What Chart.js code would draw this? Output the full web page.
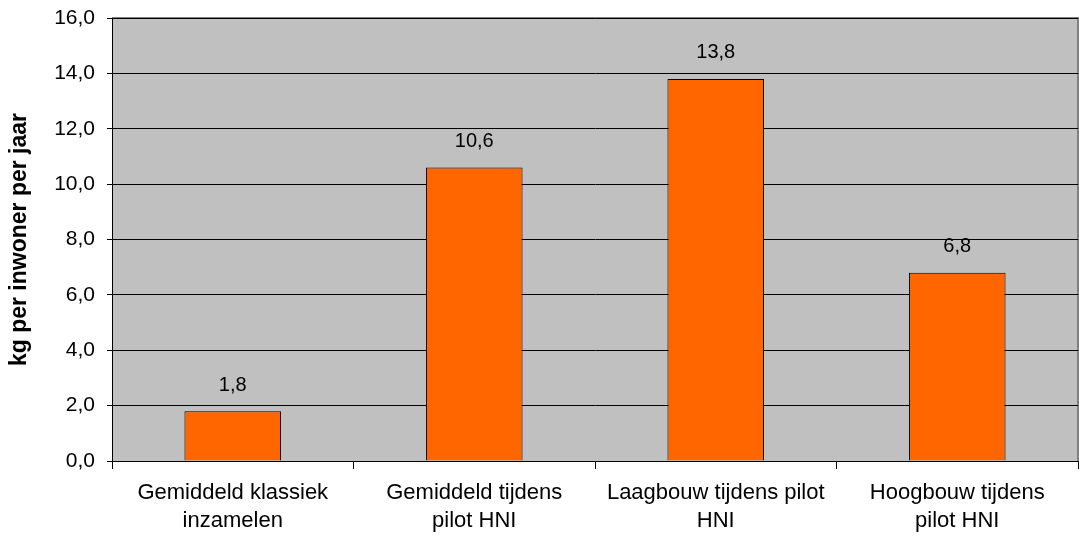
<!DOCTYPE html>
<html>
<head>
<meta charset="utf-8">
<script src="https://cdn.jsdelivr.net/npm/chart.js@4"></script>
<style>
  html, body { margin: 0; padding: 0; background: #fff; }
  #wrap { width: 1079px; height: 540px; }
</style>
</head>
<body>
<div id="wrap"><canvas id="barChart"></canvas></div>
<script>
const categories = [
  ['Gemiddeld klassiek', 'inzamelen'],
  ['Gemiddeld tijdens', 'pilot HNI'],
  ['Laagbouw tijdens pilot', 'HNI'],
  ['Hoogbouw tijdens', 'pilot HNI']
];
const values = [1.8, 10.6, 13.8, 6.8];
const yTitle = 'kg per inwoner per jaar';

const fmt = v => v.toFixed(1).replace('.', ',');

// gray plot background + gray top/right border
const plotArea = {
  id: 'plotArea',
  beforeDraw(chart) {
    const { ctx, chartArea: a } = chart;
    ctx.save();
    ctx.fillStyle = '#c0c0c0';
    ctx.fillRect(a.left, a.top, a.right - a.left, a.bottom - a.top);
    ctx.strokeStyle = '#808080';
    ctx.lineWidth = 2;
    ctx.beginPath();
    ctx.moveTo(a.left, a.top);
    ctx.lineTo(a.right, a.top);
    ctx.lineTo(a.right, a.bottom);
    ctx.stroke();
    ctx.restore();
  }
};

// value labels above bars
const valueLabels = {
  id: 'valueLabels',
  afterDatasetsDraw(chart) {
    const { ctx } = chart;
    ctx.save();
    ctx.font = '20px "Liberation Sans", Arial, sans-serif';
    ctx.fillStyle = '#000';
    ctx.textAlign = 'center';
    ctx.textBaseline = 'middle';
    chart.getDatasetMeta(0).data.forEach((bar, i) => {
      ctx.fillText(fmt(values[i]), bar.x, bar.y - 26);
    });
    ctx.restore();
  }
};

Chart.defaults.font.family = '"Liberation Sans", Arial, sans-serif';
Chart.defaults.color = '#000';

new Chart(document.getElementById('barChart'), {
  type: 'bar',
  data: {
    labels: categories,
    datasets: [{
      data: values,
      backgroundColor: '#ff6600',
      borderColor: '#000',
      borderWidth: 1,
      barPercentage: 0.4,
      categoryPercentage: 1
    }]
  },
  options: {
    responsive: true, maintainAspectRatio: false, animation: false,
    layout: { padding: { top: 18, right: 1, left: 0, bottom: 0 } },
    plugins: { legend: { display: false }, tooltip: { enabled: false } },
    scales: {
      x: {
        grid: { drawOnChartArea: false, drawTicks: true, tickLength: 8, color: '#000', offset: true },
        border: { display: true, color: '#000' },
        ticks: { font: { size: 22, lineHeight: 1.27 }, color: '#000', padding: 10 },
        afterFit: s => { s.height = 79; }
      },
      y: {
        min: 0, max: 16,
        grid: { color: '#000', lineWidth: 1, tickLength: 5 },
        border: { color: '#000' },
        ticks: { stepSize: 2, font: { size: 21 }, color: '#000', padding: 12, callback: v => fmt(v) },
        title: { display: true, text: yTitle, font: { size: 23, weight: 'bold' }, color: '#000', padding: { top: 6, bottom: 0 } },
        afterFit: s => { s.width = 112; s.paddingTop = 0; s.paddingBottom = 0; }
      }
    }
  },
  plugins: [plotArea, valueLabels]
});
</script>
</body>
</html>
